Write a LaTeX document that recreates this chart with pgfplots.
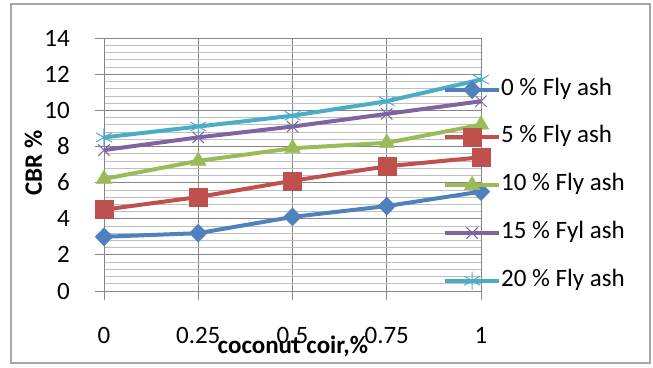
\documentclass[border=0pt]{standalone}
\usepackage{fontspec}
\setmainfont{Carlito}
\usepackage{pgfplots}
\pgfplotsset{compat=1.18}

\definecolor{cblue}{HTML}{4F81BD}
\definecolor{cred}{HTML}{C0504D}
\definecolor{cgreen}{HTML}{9BBB59}
\definecolor{cpurple}{HTML}{8064A2}
\definecolor{ccyan}{HTML}{4BACC6}
\definecolor{gmajor}{HTML}{868686}
\definecolor{gminor}{HTML}{BFBFBF}

\newcommand{\bigfont}{\fontsize{25}{30}\selectfont}

\begin{document}
\begin{tikzpicture}
\path[use as bounding box] (0pt,0pt) rectangle (653pt,367pt);
\draw[gray!70, line width=1.5pt] (11pt,4pt) rectangle (650pt,363pt);
\begin{axis}[
  at={(104pt,76pt)}, anchor=south west,
  scale only axis, width=377pt, height=253pt,
  xmin=0, xmax=1, ymin=0, ymax=14,
  xtick={0,0.25,0.5,0.75,1},
  xticklabels={0,0.25,0.5,0.75,1},
  ytick={0,2,...,14},
  minor y tick num=4,
  grid=both,
  major grid style={draw=gmajor, line width=0.9pt},
  minor grid style={draw=gminor, line width=0.6pt},
  axis line style={draw=gmajor, line width=0.9pt},
  tick align=outside,
  major tick length=9pt,
  minor tick length=0pt,
  major tick style={draw=gmajor, line width=0.9pt},
  xtick pos=bottom, ytick pos=left,
  /pgf/number format/assume math mode=true,
  tick label style={font=\bigfont, inner sep=0pt},
  yticklabel style={xshift=-25pt},
  xticklabel style={yshift=-27pt},
  xlabel={coconut coir,\%},
  ylabel={CBR \%},
  label style={font=\bigfont\bfseries},
  xlabel style={at={(axis description cs:0.501,-0.249)}, anchor=base, inner sep=0pt},
  ylabel style={at={(axis description cs:-0.1645,0.506)}, anchor=base, inner sep=0pt},
  legend image code/.code={\draw[mark repeat=2,mark phase=2,#1] plot coordinates {(0pt,0pt) (27pt,0pt) (54pt,0pt)};},
  legend cell align=left,
  legend style={at={(axis description cs:0.899,0.838)}, anchor=north west,
    draw=none, fill=none, inner sep=0pt, row sep=26.75pt,
    font=\bigfont,
    nodes={inner sep=0pt, text height=16pt, text depth=5pt}},
  every axis plot/.append style={line width=4pt},
]
\addplot[color=cblue, mark=diamond*, mark size=9pt, mark options={solid, line width=0.5pt, xscale=1.3}]
  coordinates {(0,3.0) (0.25,3.2) (0.5,4.1) (0.75,4.7) (1,5.5)};
\addlegendentry{0 \% Fly ash}
\addplot[color=cred, mark=square*, mark size=9pt, mark options={solid, line width=0.5pt}]
  coordinates {(0,4.5) (0.25,5.2) (0.5,6.1) (0.75,6.9) (1,7.4)};
\addlegendentry{5 \% Fly ash}
\addplot[color=cgreen, mark=triangle*, mark size=9pt, mark options={solid, line width=0.5pt}]
  coordinates {(0,6.2) (0.25,7.2) (0.5,7.9) (0.75,8.2) (1,9.2)};
\addlegendentry{10 \% Fly ash}
\addplot[color=cpurple, mark=x, mark size=8pt, mark options={solid, line width=1pt}]
  coordinates {(0,7.8) (0.25,8.5) (0.5,9.1) (0.75,9.8) (1,10.5)};
\addlegendentry{15 \% Fyl ash}
\addplot[color=ccyan, mark=asterisk, mark size=9pt, mark options={solid, line width=1pt}]
  coordinates {(0,8.5) (0.25,9.1) (0.5,9.7) (0.75,10.5) (1,11.7)};
\addlegendentry{20 \% Fly ash}
\end{axis}
\end{tikzpicture}
\end{document}
